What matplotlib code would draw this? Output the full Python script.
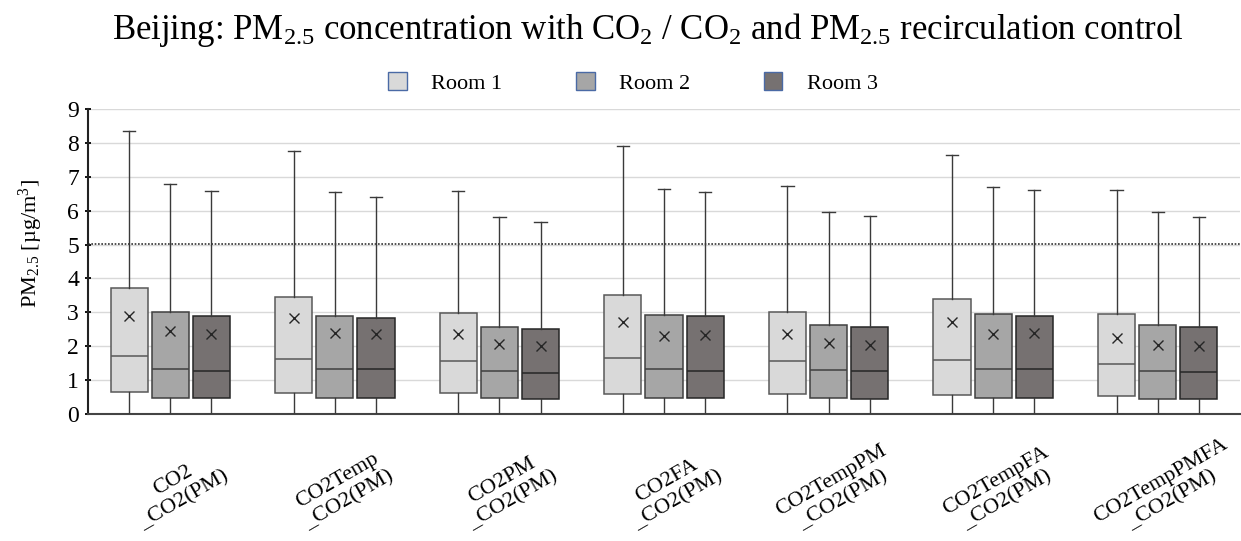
import numpy as np
import matplotlib
matplotlib.use("Agg")
import matplotlib.pyplot as plt
from matplotlib.patches import Patch

plt.rcParams['font.family'] = ['Liberation Serif', 'DejaVu Serif']
plt.rcParams['mathtext.fontset'] = 'custom'
plt.rcParams['mathtext.rm'] = 'Liberation Serif'
plt.rcParams['mathtext.it'] = 'Liberation Serif:italic'
plt.rcParams['mathtext.bf'] = 'Liberation Serif:bold'

# Datos
categories = ["CO2\n_CO2(PM)", "CO2Temp\n_CO2(PM)", "CO2PM\n_CO2(PM)", "CO2FA\n_CO2(PM)",
              "CO2TempPM\n_CO2(PM)", "CO2TempFA\n_CO2(PM)", "CO2TempPMFA\n_CO2(PM)"]
rooms = ["Room 1", "Room 2", "Room 3"]

# por sala: una lista con 7 valores (una por estrategia)
whis_hi = [[8.36, 7.76, 6.58, 7.90, 6.72, 7.65, 6.60],
           [6.78, 6.54, 5.81, 6.64, 5.96, 6.71, 5.95],
           [6.59, 6.40, 5.66, 6.54, 5.85, 6.61, 5.80]]
q3 = [[3.73, 3.46, 2.98, 3.51, 3.00, 3.38, 2.95],
      [3.00, 2.90, 2.58, 2.93, 2.63, 2.95, 2.63],
      [2.90, 2.83, 2.52, 2.88, 2.58, 2.90, 2.58]]
median = [[1.72, 1.62, 1.57, 1.64, 1.55, 1.58, 1.47],
          [1.33, 1.33, 1.26, 1.33, 1.31, 1.33, 1.26],
          [1.28, 1.33, 1.21, 1.28, 1.26, 1.33, 1.23]]
q1 = [[0.64, 0.61, 0.61, 0.58, 0.58, 0.55, 0.53],
      [0.46, 0.46, 0.47, 0.46, 0.46, 0.46, 0.44],
      [0.46, 0.46, 0.44, 0.46, 0.44, 0.46, 0.44]]
whis_lo = [[0.0] * 7, [0.0] * 7, [0.0] * 7]
mean = [[2.90, 2.82, 2.36, 2.71, 2.35, 2.71, 2.23],
        [2.45, 2.40, 2.06, 2.31, 2.09, 2.36, 2.03],
        [2.37, 2.37, 2.00, 2.32, 2.04, 2.38, 2.00]]
limit = 5.03

fills = ['#d9d9d9', '#a6a6a6', '#767171']
edges = ['#595959', '#404040', '#262626']
offsets = [-0.25, 0.0, 0.25]

fig = plt.figure(figsize=(12.41, 5.41), dpi=100)
ax = fig.add_axes([0.0709, 0.2348, 0.9283, 0.5637])

x = np.arange(len(categories))
for r in range(3):
    stats = []
    for i in range(len(categories)):
        stats.append(dict(med=median[r][i], q1=q1[r][i], q3=q3[r][i],
                          whislo=whis_lo[r][i], whishi=whis_hi[r][i], mean=mean[r][i]))
    ax.bxp(stats, positions=x + offsets[r], widths=0.225, capwidths=0.075,
           showmeans=True, showfliers=False, patch_artist=True,
           boxprops=dict(facecolor=fills[r], edgecolor=edges[r], linewidth=1.1),
           medianprops=dict(color=edges[r], linewidth=1.1),
           whiskerprops=dict(color='#3a3a3a', linewidth=1.0),
           capprops=dict(color='#3a3a3a', linewidth=1.0),
           meanprops=dict(marker='x', markeredgecolor='#262626', markersize=7, markeredgewidth=1.0),
           zorder=3)

ax.axhline(limit, color='#333333', linestyle=(0, (1, 1)), linewidth=1.2, zorder=2)

ax.set_xlim(-0.5, len(categories) - 0.5)
ax.set_ylim(0, 9)
ax.set_yticks(range(0, 10))
ax.yaxis.grid(True, color='#d9d9d9', linewidth=1.0)
ax.set_axisbelow(True)
ax.set_xticks([])
for s in ['top', 'right']:
    ax.spines[s].set_visible(False)
ax.spines['left'].set_linewidth(1.5)
ax.spines['bottom'].set_linewidth(1.5)
ax.spines['left'].set_color('#222222')
ax.spines['bottom'].set_color('#444444')
ax.tick_params(axis='y', direction='inout', length=5, width=1.3, labelsize=17, pad=4)

# etiquetas de categoría: ancladas en la línea base de "_CO2(PM)"
for i, lab in enumerate(categories):
    ax.text(i + 0.09, -0.286, lab, transform=ax.get_xaxis_transform(), rotation=30,
            rotation_mode='anchor', ha='center', va='baseline', multialignment='center',
            fontsize=16, linespacing=1.2)

ax.set_ylabel("PM$_{2.5}$ [µg/m$^3$]", fontsize=16)
ax.yaxis.set_label_coords(-0.037, 0.56)

fig.suptitle("Beijing: PM$_{2.5}$ concentration with CO$_2$ / CO$_2$ and PM$_{2.5}$ recirculation control",
             fontsize=25, x=0.522, y=0.98)

handles = [Patch(facecolor=fills[r], edgecolor='#4a6aa5', linewidth=1.0) for r in range(3)]
fig.legend(handles, rooms, loc='center', bbox_to_anchor=(0.51, 0.847), ncol=3, frameon=False,
           fontsize=16, handlelength=0.85, handleheight=0.85, handletextpad=1.1, columnspacing=3.3)

fig.savefig("out.png", dpi=100)
